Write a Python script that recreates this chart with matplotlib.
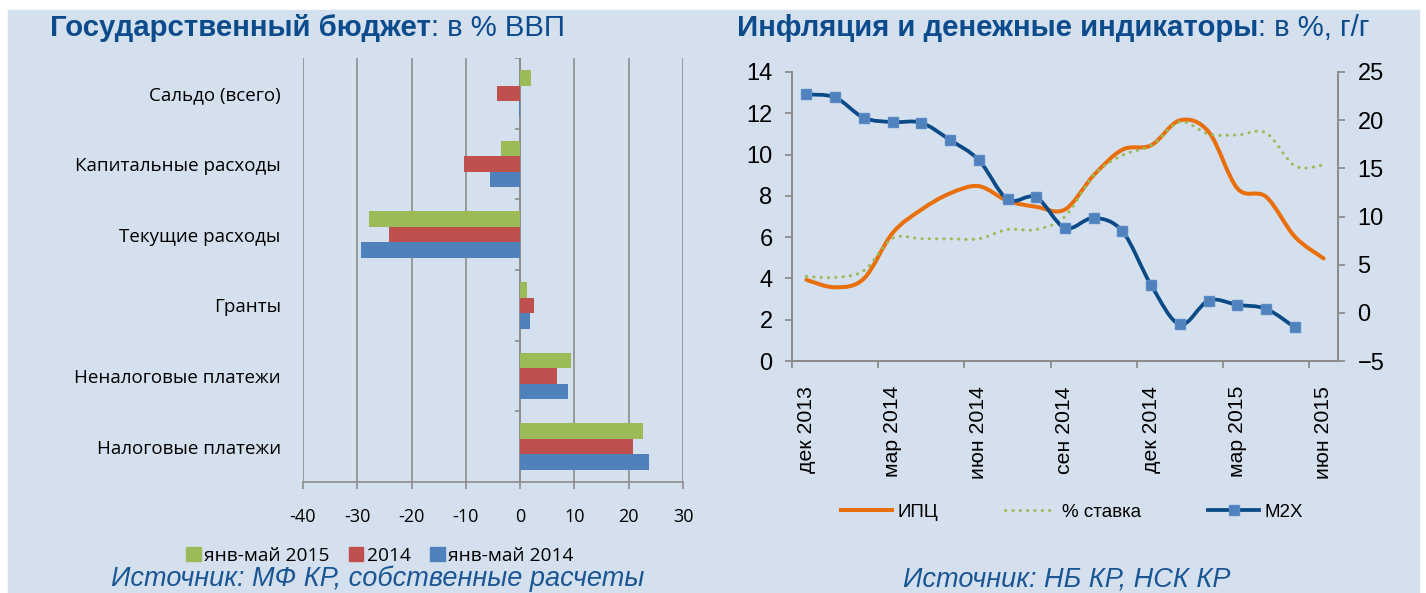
import numpy as np
import matplotlib.pyplot as plt
from matplotlib.patches import Rectangle, Patch, PathPatch
from matplotlib.path import Path
from matplotlib.lines import Line2D

# ================= DATA =================
# left chart: state budget, % of GDP
budget_cats = ['Сальдо (всего)', 'Капитальные расходы', 'Текущие расходы',
               'Гранты', 'Неналоговые платежи', 'Налоговые платежи']
jan_may_2015 = [2.0, -3.5, -27.8, 1.3, 9.3, 22.7]
year_2014 = [-4.3, -10.4, -24.2, 2.5, 6.7, 20.7]
jan_may_2014 = [-0.3, -5.6, -29.3, 1.9, 8.9, 23.7]
budget_ticks = [-40, -30, -20, -10, 0, 10, 20, 30]

# right chart: inflation and money, % y/y
months = ['дек 2013', 'янв 2014', 'фев 2014', 'мар 2014', 'апр 2014', 'май 2014',
          'июн 2014', 'июл 2014', 'авг 2014', 'сен 2014', 'окт 2014', 'ноя 2014',
          'дек 2014', 'янв 2015', 'фев 2015', 'мар 2015', 'апр 2015', 'май 2015',
          'июн 2015']
cpi = [3.93, 3.57, 3.99, 6.2, 7.33, 8.12, 8.47, 7.76, 7.47, 7.34, 9.0, 10.24,
       10.45, 11.66, 11.1, 8.36, 7.95, 6.02, 4.97]
policy_rate = [4.1, 4.05, 4.38, 5.94, 5.92, 5.92, 5.92, 6.37, 6.37, 7.0, 9.0, 9.97,
               10.45, 11.58, 10.99, 10.95, 11.05, 9.45, 9.5]
m2x = [22.67, 22.36, 20.25, 19.8, 19.73, 17.94, 15.86, 11.78, 11.99, 8.81, 9.85,
       8.46, 2.86, -1.21, 1.28, 0.83, 0.41, -1.52]

# ================= STYLE =================
W, H = 1426, 593
BG = '#D5E0EE'
TITLE_BLUE = '#0D4C8C'
SRC_BLUE = '#1A5694'
GRID = '#8C8C8C'
GREEN, RED, BLUE = '#9BBB59', '#C0504D', '#4F81BD'
ORANGE, M2X_LINE = '#E96F0C', '#0A4A86'

plt.rcParams['font.family'] = ['Liberation Sans', 'DejaVu Sans']
CAL = ['Open Sans', 'DejaVu Sans']
NARROW = ['Liberation Sans Narrow', 'Liberation Sans']

fig = plt.figure(figsize=(W / 100, H / 100), dpi=100)
fig.add_artist(Rectangle((8 / W, 0), (1419 - 8) / W, 1 - 10 / H,
                         transform=fig.transFigure, color=BG, zorder=-10))


def box(x0, y0, x1, y1):
    return [x0 / W, 1 - y1 / H, (x1 - x0) / W, (y1 - y0) / H]


def title(x, y, bold, rest):
    t = fig.text(x / W, 1 - y / H, bold, fontsize=21.2, fontweight='bold',
                 color=TITLE_BLUE, va='baseline')
    bb = t.get_window_extent(renderer=fig.canvas.get_renderer())
    fig.text(bb.x1 / W, 1 - y / H, rest, fontsize=21.2, color=TITLE_BLUE, va='baseline')


def smooth_path(xs, ys):
    # excel-like smoothed line: bezier through the points
    pts = np.column_stack([xs, ys]).astype(float)
    n = len(pts)
    verts, codes = [pts[0]], [Path.MOVETO]
    for i in range(n - 1):
        p0, p1 = pts[max(i - 1, 0)], pts[i]
        p2, p3 = pts[i + 1], pts[min(i + 2, n - 1)]
        verts += [p1 + (p2 - p0) / 6, p2 - (p3 - p1) / 6, p2]
        codes += [Path.CURVE4] * 3
    return Path(verts, codes)


# ================= LEFT: BUDGET =================
ax1 = fig.add_axes(box(303, 58, 683, 482))
ax1.set_facecolor('none')
pos = np.arange(len(budget_cats))[::-1]
h = 0.221
ax1.barh(pos + h, jan_may_2015, height=h, color=GREEN, zorder=3)
ax1.barh(pos, year_2014, height=h, color=RED, zorder=3)
ax1.barh(pos - h, jan_may_2014, height=h, color=BLUE, zorder=3)
ax1.set_xlim(-40, 30)
ax1.set_ylim(-0.5, 5.5)
ax1.set_xticks(budget_ticks)
ax1.set_xticklabels([str(v) for v in budget_ticks], family=CAL, fontsize=13)
ax1.set_yticks(pos)
ax1.set_yticklabels(budget_cats, family=CAL, fontsize=13.5)
ax1.tick_params(axis='y', length=0, pad=16)
ax1.tick_params(axis='x', direction='out', length=5, width=1.2, color=GRID, pad=14)
ax1.grid(axis='x', color=GRID, lw=1.2, zorder=1)
ax1.set_axisbelow(True)
for s in ['top', 'left', 'right']:
    ax1.spines[s].set_visible(False)
ax1.spines['bottom'].set_color(GRID)
ax1.spines['bottom'].set_linewidth(1.2)
ax1.axvline(0, color=GRID, lw=1.2, zorder=2)
ax1.hlines(np.arange(-0.5, 6, 1), -0.9, 0, color=GRID, lw=1.2, zorder=2)

ax1.legend(handles=[Patch(color=GREEN, label='янв-май 2015'),
                    Patch(color=RED, label='2014'),
                    Patch(color=BLUE, label='янв-май 2014')],
           loc='center', bbox_to_anchor=(380 / W, 1 - 556 / H),
           bbox_transform=fig.transFigure, ncol=3, frameon=False,
           handlelength=0.75, handleheight=0.75, handletextpad=0.2,
           columnspacing=1.0, borderpad=0, prop={'family': CAL, 'size': 13.8})

# ================= RIGHT: INFLATION =================
ax2 = fig.add_axes(box(792, 72, 1338, 361))
ax2.set_facecolor('none')
ax3 = ax2.twinx()
x = np.arange(len(months))

ax2.add_patch(PathPatch(smooth_path(x, cpi), fc='none', ec=ORANGE, lw=2.9,
                        capstyle='round', joinstyle='round', zorder=3))
ax2.add_patch(PathPatch(smooth_path(x, policy_rate), fc='none', ec=GREEN, lw=2.2,
                        ls=(0, (0.1, 2.3)), capstyle='round', zorder=4))
xm = x[:len(m2x)]
ax3.add_patch(PathPatch(smooth_path(xm, m2x), fc='none', ec=M2X_LINE, lw=2.7,
                        capstyle='round', joinstyle='round', zorder=3))
ax3.plot(xm, m2x, ls='none', marker='s', ms=6.5, mfc=BLUE, mec='#5A8AC6', zorder=4)

ax2.set_xlim(-0.5, len(months) - 0.5)
ax2.set_ylim(0, 14)
ax3.set_ylim(-5, 25)
ax2.set_yticks(range(0, 15, 2))
ax3.set_yticks(range(-5, 26, 5))
ax2.set_xticks(np.arange(-0.5, len(months), 3))
ax2.set_xticklabels([])
ax2.set_xticks(x[::3], minor=True)
ax2.set_xticklabels(months[::3], minor=True, rotation=90, fontsize=15.3)
ax2.tick_params(axis='x', which='minor', length=0, pad=18)
ax2.tick_params(axis='x', which='major', direction='out', length=5, width=1.3, color=GRID)
ax2.tick_params(axis='y', direction='out', length=5, width=1.3, color=GRID, pad=9)
ax3.tick_params(axis='y', direction='out', length=5, width=1.3, color=GRID, pad=9)
for lab in ax2.get_yticklabels() + ax3.get_yticklabels():
    lab.set_family(NARROW)
    lab.set_fontsize(17)
for lab in ax2.get_xticklabels(minor=True):
    lab.set_va('top')
for a in (ax2, ax3):
    a.spines['top'].set_visible(False)
    for s in ['left', 'right', 'bottom']:
        a.spines[s].set_color(GRID)
        a.spines[s].set_linewidth(1.3)

ax2.legend(handles=[Line2D([], [], color=ORANGE, lw=2.9, label='ИПЦ'),
                    Line2D([], [], color=GREEN, lw=2.2, ls=(0, (0.1, 2.3)),
                           dash_capstyle='round', label='% ставка'),
                    Line2D([], [], color=M2X_LINE, lw=2.7, marker='s', ms=6.5,
                           mfc=BLUE, mec='#5A8AC6', label='M2X')],
           loc='center', bbox_to_anchor=(1072 / W, 1 - 512 / H),
           bbox_transform=fig.transFigure, ncol=3, frameon=False,
           handlelength=2.7, handletextpad=0.3, columnspacing=3.6, borderpad=0,
           prop={'family': NARROW, 'size': 13.5})

# ================= TITLES / SOURCES =================
title(50, 36, 'Государственный бюджет', ': в % ВВП')
title(737, 36, 'Инфляция и денежные индикаторы', ': в %, г/г')
fig.text(378 / W, 1 - 592 / H, 'Источник: МФ КР, собственные расчеты',
         fontsize=19.5, style='italic', color=SRC_BLUE, ha='center', va='bottom')
fig.text(1067 / W, 1 - 592 / H, 'Источник: НБ КР, НСК КР',
         fontsize=19.5, style='italic', color=SRC_BLUE, ha='center', va='bottom')

fig.savefig('out.png', dpi=100)
